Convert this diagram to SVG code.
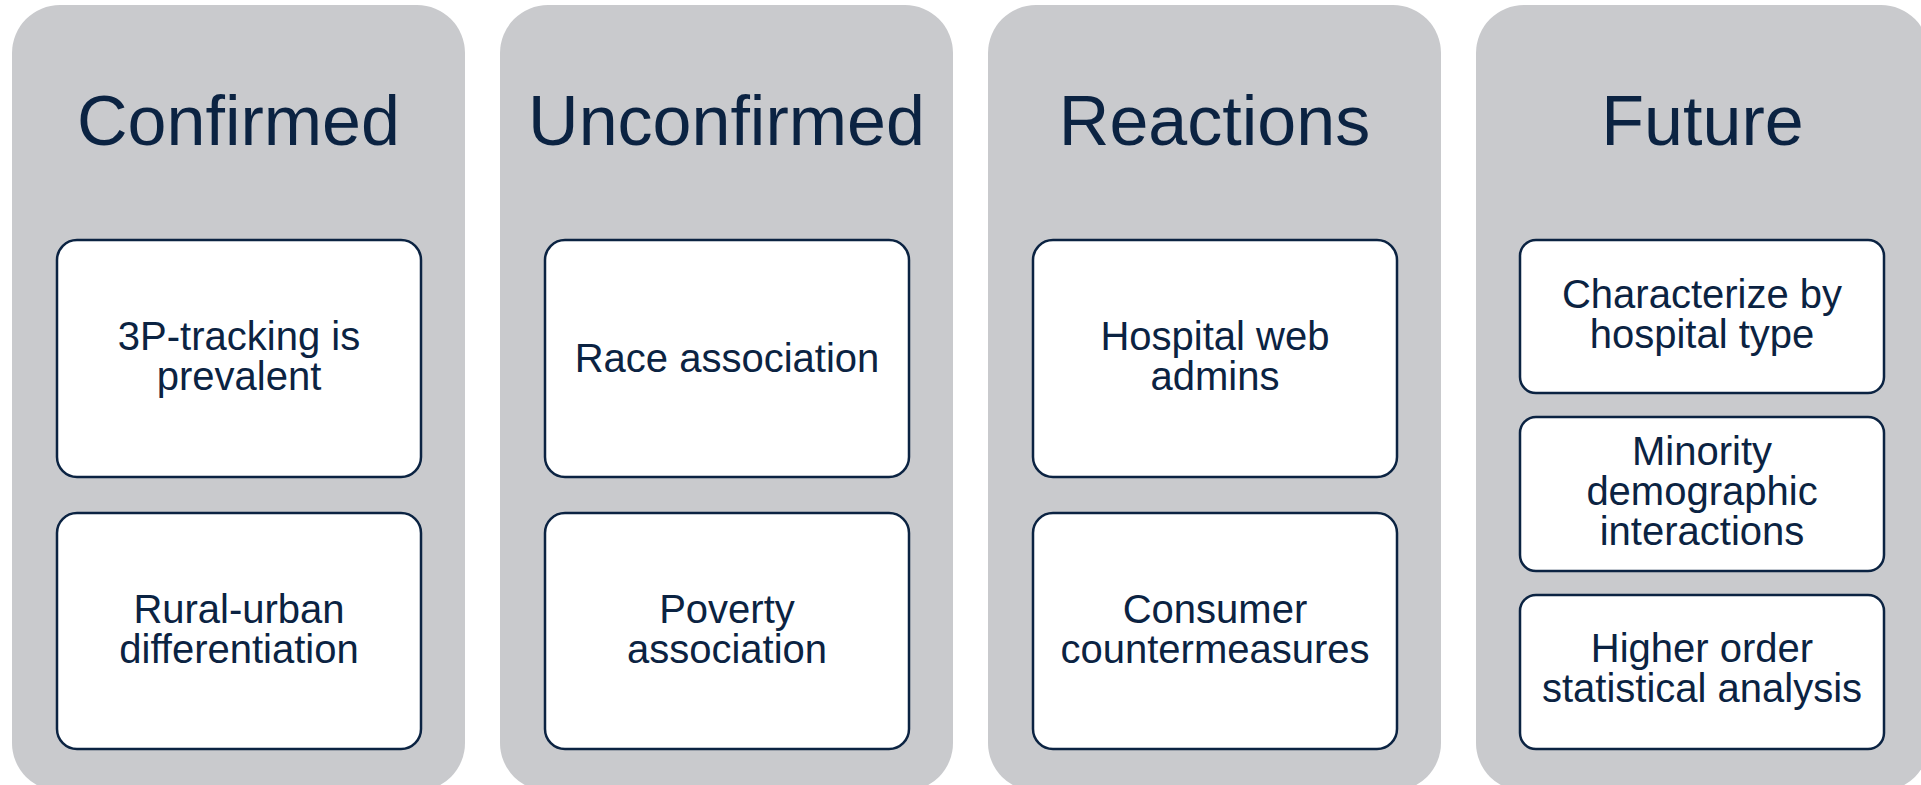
<svg xmlns="http://www.w3.org/2000/svg" width="1921" height="785" viewBox="0 0 1921 785">
<style>
.panel{fill:#c9cacd}
.box{fill:#ffffff;stroke:#0b2342;stroke-width:2.5}
.title{font-family:"Liberation Sans",Arial,sans-serif;font-size:70px;fill:#0b2342;text-anchor:middle}
.t{font-family:"Liberation Sans",Arial,sans-serif;font-size:40px;fill:#0b2342;text-anchor:middle}
</style>
<rect width="1921" height="785" fill="#ffffff"/>
<g id="confirmed">
<rect class="panel" x="12" y="5" width="453" height="786" rx="48"/>
<text class="title" x="238.5" y="145">Confirmed</text>
<g id="c1"><rect class="box" x="57" y="240" width="364" height="237" rx="20"/>
<text class="t" x="239" y="350">3P-tracking is</text><text class="t" x="239" y="390">prevalent</text></g>
<g id="c2"><rect class="box" x="57" y="513" width="364" height="236" rx="20"/>
<text class="t" x="239" y="623">Rural-urban</text><text class="t" x="239" y="663">differentiation</text></g>
</g>
<g id="unconfirmed">
<rect class="panel" x="500" y="5" width="453" height="786" rx="48"/>
<text class="title" x="726.5" y="145">Unconfirmed</text>
<g id="u1"><rect class="box" x="545" y="240" width="364" height="237" rx="20"/>
<text class="t" x="727" y="372">Race association</text></g>
<g id="u2"><rect class="box" x="545" y="513" width="364" height="236" rx="20"/>
<text class="t" x="727" y="623">Poverty</text><text class="t" x="727" y="663">association</text></g>
</g>
<g id="reactions">
<rect class="panel" x="988" y="5" width="453" height="786" rx="48"/>
<text class="title" x="1214.5" y="145">Reactions</text>
<g id="r1"><rect class="box" x="1033" y="240" width="364" height="237" rx="20"/>
<text class="t" x="1215" y="350">Hospital web</text><text class="t" x="1215" y="390">admins</text></g>
<g id="r2"><rect class="box" x="1033" y="513" width="364" height="236" rx="20"/>
<text class="t" x="1215" y="623">Consumer</text><text class="t" x="1215" y="663">countermeasures</text></g>
</g>
<g id="future">
<rect class="panel" x="1476" y="5" width="453" height="786" rx="48"/>
<text class="title" x="1702.5" y="145">Future</text>
<g id="f1"><rect class="box" x="1520" y="240" width="364" height="153" rx="16"/>
<text class="t" x="1702" y="308">Characterize by</text><text class="t" x="1702" y="348">hospital type</text></g>
<g id="f2"><rect class="box" x="1520" y="417" width="364" height="154" rx="16"/>
<text class="t" x="1702" y="465">Minority</text><text class="t" x="1702" y="505">demographic</text><text class="t" x="1702" y="545">interactions</text></g>
<g id="f3"><rect class="box" x="1520" y="595" width="364" height="154" rx="16"/>
<text class="t" x="1702" y="662">Higher order</text><text class="t" x="1702" y="702">statistical analysis</text></g>
</g>
<g id="connectors"/>
</svg>
